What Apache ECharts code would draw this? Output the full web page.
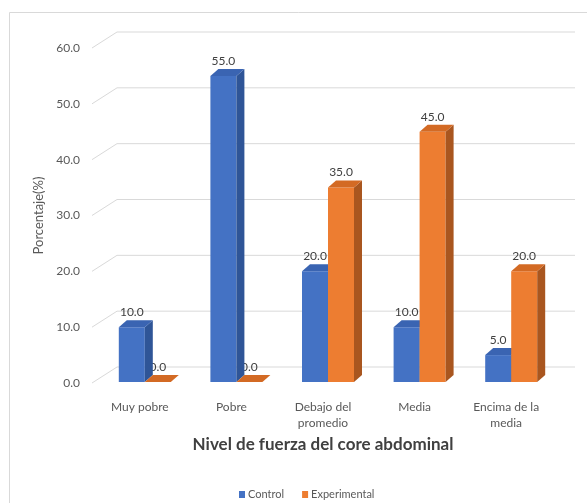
<!DOCTYPE html>
<html>
<head>
<meta charset="utf-8">
<script src="https://cdn.jsdelivr.net/npm/echarts@6/dist/echarts.min.js"></script>
<style>
  html, body { margin: 0; padding: 0; background: #ffffff; }
  #chart { width: 587px; height: 503px; }
</style>
</head>
<body>
<div id="chart"></div>
<script>
// Categories, series values and value-axis ticks
const categories = ['Muy pobre', 'Pobre', 'Debajo del\npromedio', 'Media', 'Encima de la\nmedia'];
const controlValues = [10, 55, 20, 10, 5];
const experimentalValues = [0, 0, 35, 45, 20];
const yTicks = [0, 10, 20, 30, 40, 50, 60];

const FONT = 'Lato, "Open Sans", sans-serif';

// Pseudo-3D styling
const BAR_W = 26;      // front face width of each column
const DEPTH_X = 8;     // column depth, horizontal component
const DEPTH_Y = 7;     // column depth, vertical component
const SHIFT = 5;       // columns sit slightly right of their category label
const WALL_X = 23;     // back-wall offset of gridlines
const WALL_Y = 16;

const palette = {
  control: { front: '#4472c4', side: '#2f5597', top: '#3a64b2' },
  experimental: { front: '#ed7d31', side: '#a9561f', top: '#d36a24' }
};

function barRect(api, idx, value, slot) {
  const c = api.coord([idx, 0]);
  const t = api.coord([idx, value]);
  const xl = c[0] + SHIFT + (slot === 0 ? -BAR_W : 0);
  return { xl: xl, xr: xl + BAR_W, y0: c[1] - 1, yt: Math.min(t[1], c[1] - 1) };
}

function makeBarRender(values, slot, colors) {
  return function (params, api) {
    const idx = api.value(0);
    const r = barRect(api, idx, values[idx], slot);
    return {
      type: 'group',
      children: [
        { type: 'rect', shape: { x: r.xl, y: r.yt, width: BAR_W, height: r.y0 - r.yt },
          style: { fill: colors.front } },
        { type: 'polygon', shape: { points: [[r.xr, r.y0], [r.xr + DEPTH_X, r.y0 - DEPTH_Y],
            [r.xr + DEPTH_X, r.yt - DEPTH_Y], [r.xr, r.yt]] },
          style: { fill: colors.side } },
        { type: 'polygon', shape: { points: [[r.xl, r.yt], [r.xl + DEPTH_X, r.yt - DEPTH_Y],
            [r.xr + DEPTH_X, r.yt - DEPTH_Y], [r.xr, r.yt]] },
          style: { fill: colors.top } }
      ]
    };
  };
}

// Value labels sit underneath the columns, so a neighbouring column may hide part of one
function makeLabelRender(values, slot) {
  return function (params, api) {
    const idx = api.value(0);
    const r = barRect(api, idx, values[idx], slot);
    return {
      type: 'text',
      style: {
        text: values[idx].toFixed(1),
        x: (r.xl + r.xr) / 2,
        y: r.yt - 15,
        align: 'center',
        verticalAlign: 'middle',
        fill: '#404040',
        font: '12px ' + FONT
      }
    };
  };
}

// Gridlines drawn on the back wall with a slanted floor segment
function gridRender(params, api) {
  const v = yTicks[params.dataIndex];
  const y = api.coord([0, v])[1];
  const cs = params.coordSys;
  return {
    type: 'polyline',
    shape: { points: [[cs.x - 2, y], [cs.x + WALL_X, y - WALL_Y],
      [cs.x + cs.width + WALL_X, y - WALL_Y]] },
    style: { stroke: '#d9d9d9', lineWidth: 1, fill: null }
  };
}

const idxData = categories.map((_, i) => [i]);

const chart = echarts.init(document.getElementById('chart'), null, { renderer: 'canvas' });
chart.setOption({
  backgroundColor: '#ffffff',
  animation: false,
  graphic: [{
    type: 'rect', shape: { x: 9.5, y: 12.5, width: 620, height: 520 },
    style: { fill: null, stroke: '#d9d9d9', lineWidth: 1 }, z: -10
  }],
  legend: {
    data: ['Control', 'Experimental'],
    left: 234, top: 484,
    icon: 'rect', itemWidth: 6, itemHeight: 7, itemGap: 18,
    textStyle: { color: '#595959', fontSize: 11, fontFamily: FONT, padding: [0, 0, 0, -2] }
  },
  grid: { left: 94, right: 35, top: 48, bottom: 120 },
  xAxis: {
    type: 'category',
    data: categories,
    axisLine: { show: false },
    axisTick: { show: false },
    axisLabel: { color: '#595959', fontSize: 12, fontFamily: FONT, margin: 16, lineHeight: 16, interval: 0 },
    name: 'Nivel de fuerza del core abdominal',
    nameLocation: 'middle',
    nameGap: 53,
    nameTextStyle: { color: '#404040', fontSize: 17, fontWeight: 'bold', fontFamily: FONT }
  },
  yAxis: {
    type: 'value',
    min: 0, max: 60, interval: 10,
    axisLine: { show: false },
    axisTick: { show: false },
    splitLine: { show: false },
    axisLabel: { color: '#595959', fontSize: 12, fontFamily: FONT, margin: 14,
      formatter: v => v.toFixed(1) },
    name: 'Porcentaje(%)',
    nameLocation: 'middle',
    nameGap: 45,
    nameTextStyle: { color: '#595959', fontSize: 13, fontFamily: FONT }
  },
  series: [
    { type: 'custom', name: 'grid', data: yTicks.map(v => [0, v]), renderItem: gridRender,
      silent: true, z: 0 },
    { type: 'custom', name: 'ControlLabels', data: idxData, renderItem: makeLabelRender(controlValues, 0),
      silent: true, z: 1 },
    { type: 'custom', name: 'ExperimentalLabels', data: idxData, renderItem: makeLabelRender(experimentalValues, 1),
      silent: true, z: 1 },
    { type: 'custom', name: 'Control', data: idxData, renderItem: makeBarRender(controlValues, 0, palette.control),
      itemStyle: { color: palette.control.front }, z: 2 },
    { type: 'custom', name: 'Experimental', data: idxData, renderItem: makeBarRender(experimentalValues, 1, palette.experimental),
      itemStyle: { color: palette.experimental.front }, z: 2 }
  ]
});
</script>
</body>
</html>
